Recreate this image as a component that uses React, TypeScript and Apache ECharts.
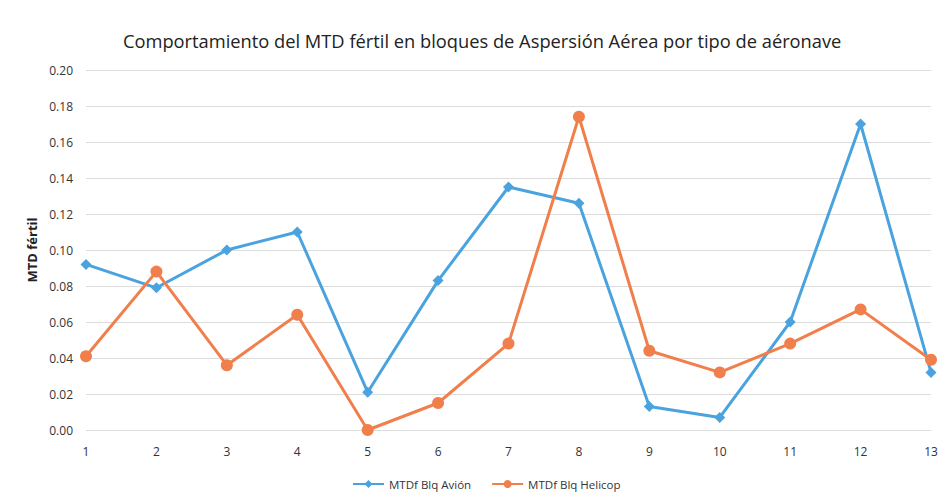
import React, { useEffect, useRef } from "react";
import * as echarts from "echarts";

const categories = ["1", "2", "3", "4", "5", "6", "7", "8", "9", "10", "11", "12", "13"];
const avion = [0.092, 0.079, 0.1, 0.11, 0.021, 0.083, 0.135, 0.126, 0.013, 0.007, 0.06, 0.17, 0.032];
const helicop = [0.041, 0.088, 0.036, 0.064, 0.0, 0.015, 0.048, 0.174, 0.044, 0.032, 0.048, 0.067, 0.039];
const seriesNames = ["MTDf Blq Avión", "MTDf Blq Helicop"];
const titleText = "Comportamiento del MTD fértil en bloques de Aspersión Aérea por tipo de aéronave";
const yAxisName = "MTD fértil";

export default function App() {
  const ref = useRef<HTMLDivElement>(null);
  useEffect(() => {
    if (!ref.current) return;
    const chart = echarts.init(ref.current, null, { renderer: "svg" });
    const font = "'Open Sans', 'Noto Sans', sans-serif";
    chart.setOption({
      animation: false,
      backgroundColor: "#ffffff",
      textStyle: { fontFamily: font },
      title: {
        text: titleText,
        left: 118,
        top: 26,
        textStyle: { fontFamily: font, fontSize: 18.3, fontWeight: "normal", color: "#222" },
      },
      legend: {
        bottom: 9,
        left: 347,
        itemWidth: 31,
        itemHeight: 10,
        itemGap: 20,
        textStyle: { fontFamily: font, fontSize: 11.5, color: "#333" },
        data: seriesNames,
      },
      grid: { left: 86, right: 12, top: 70, bottom: 74 },
      xAxis: {
        type: "category",
        data: categories,
        boundaryGap: false,
        axisLine: { show: false },
        axisTick: { show: false },
        axisLabel: { fontFamily: font, fontSize: 12, color: "#333", margin: 15 },
      },
      yAxis: {
        type: "value",
        min: 0,
        max: 0.2,
        interval: 0.02,
        name: yAxisName,
        nameLocation: "middle",
        nameGap: 45,
        nameRotate: 90,
        nameTextStyle: { fontFamily: font, fontSize: 13, fontWeight: "bold", color: "#222" },
        axisLine: { show: false },
        axisTick: { show: false },
        axisLabel: {
          fontFamily: font,
          fontSize: 12,
          color: "#333",
          margin: 13,
          formatter: (v: number) => v.toFixed(2),
        },
        splitLine: { lineStyle: { color: "#dcdcdc", width: 1 } },
      },
      series: [
        {
          name: seriesNames[0],
          type: "line",
          data: avion,
          symbol: "diamond",
          symbolSize: 11,
          lineStyle: { color: "#4aa3df", width: 3 },
          itemStyle: { color: "#4aa3df" },
        },
        {
          name: seriesNames[1],
          type: "line",
          data: helicop,
          symbol: "circle",
          symbolSize: 12,
          lineStyle: { color: "#f07f4c", width: 3 },
          itemStyle: { color: "#f07f4c" },
        },
      ],
    });
    return () => chart.dispose();
  }, []);
  return (
    <div
      ref={ref}
      style={{ position: "fixed", left: 0, top: 0, width: 943, height: 504 }}
    />
  );
}
